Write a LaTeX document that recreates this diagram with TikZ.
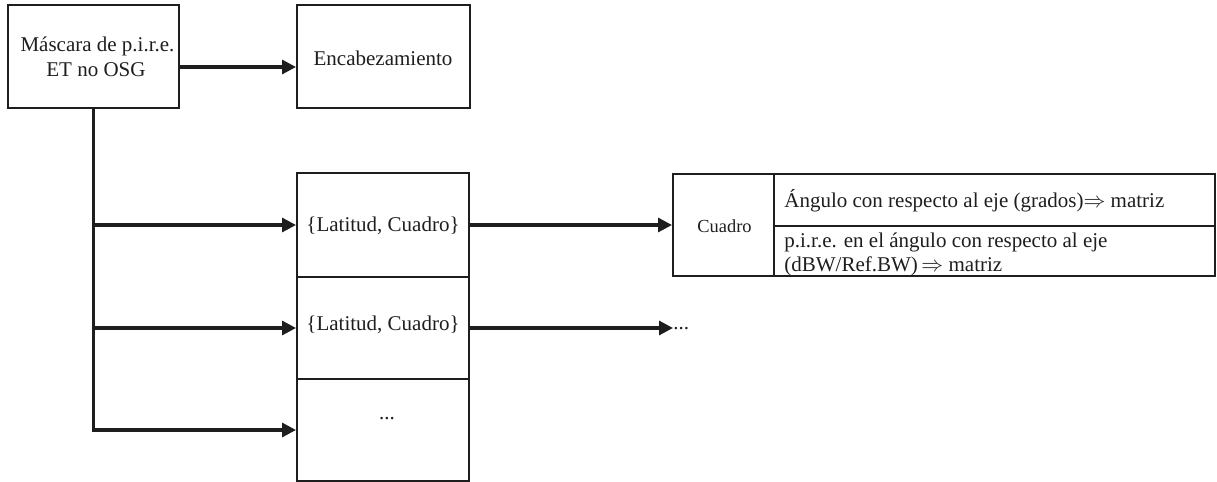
\documentclass[tikz,border=0pt]{standalone}
\usepackage{fontspec}
\setmainfont{Liberation Serif}
\usetikzlibrary{arrows.meta}
\definecolor{ink}{RGB}{30,30,30}
\begin{document}
\begin{tikzpicture}[x=0.5pt,y=-0.5pt,
  box/.style={draw=ink,line width=1pt,inner sep=0pt},
  txt/.style={inner sep=0pt,text=ink,font=\fontsize{10.5}{12}\selectfont},
  smalltxt/.style={txt,font=\fontsize{9.2}{11}\selectfont},
  wire/.style={draw=ink,line width=1.6pt},
  arrow/.style={wire,-{Triangle[length=7pt,width=7pt]}},
]
\useasboundingbox (0,0) rectangle (1217,482);

% top row
\node[box,minimum width=85.5pt,minimum height=51.5pt] (A) at (93.5,56.5) {};
\node[box,minimum width=86.5pt,minimum height=51.5pt] (B) at (383.5,56.5) {};
\node[txt,anchor=base] (a1) at (97.5,52) {Máscara de p.i.r.e.};
\node[txt,anchor=base] (a2) at (96,76) {ET no OSG};
\node[txt,anchor=base] (b1) at (383,65) {Encabezamiento};

% stacked list of entries
\node[box,minimum width=86pt,minimum height=52pt] (S1) at (383,225) {};
\node[box,minimum width=86pt,minimum height=51pt] (S2) at (383,328) {};
\node[box,minimum width=86pt,minimum height=51pt] (S3) at (383,430) {};
\node[txt,anchor=base] (s1t) at (383,231) {\{Latitud, Cuadro\}};
\node[txt,anchor=base] (s2t) at (383,330) {\{Latitud, Cuadro\}};
\node[txt,anchor=base] (s3t) at (387,419) {...};

% Cuadro table
\node[box,minimum width=50.5pt,minimum height=51pt] (C0) at (723.5,225) {};
\node[box,minimum width=220.5pt,minimum height=26pt] (C1) at (994.5,200) {};
\node[box,minimum width=220.5pt,minimum height=25pt] (C2) at (994.5,251) {};
\node[smalltxt,anchor=base] (c0t) at (724.5,232) {Cuadro};
\node[txt,anchor=base west] (c1t) at (784,207) {Ángulo con respecto al eje (grados)$\Rightarrow$ matriz};
\node[txt,anchor=base west] (c2a) at (784,247) {p.i.r.e. en el ángulo con respecto al eje};
\node[txt,anchor=base west] (c2b) at (784,271) {(dBW/Ref.BW)\,$\Rightarrow$ matriz};

% continuation marker
\node[txt,anchor=base west] (D) at (673,329) {...};

% connectors
\draw[arrow] (A.east |- 0,67) -- (B.west |- 0,67);
\draw[arrow] (A.south) |- (S3.west);
\draw[arrow] (A.south |- S1.west) -- (S1.west);
\draw[arrow] (A.south |- S2.west) -- (S2.west);
\draw[arrow] (S1.east) -- (C0.west);
\draw[arrow] (S2.east) -- (S2.east -| D.west);
\end{tikzpicture}
\end{document}
